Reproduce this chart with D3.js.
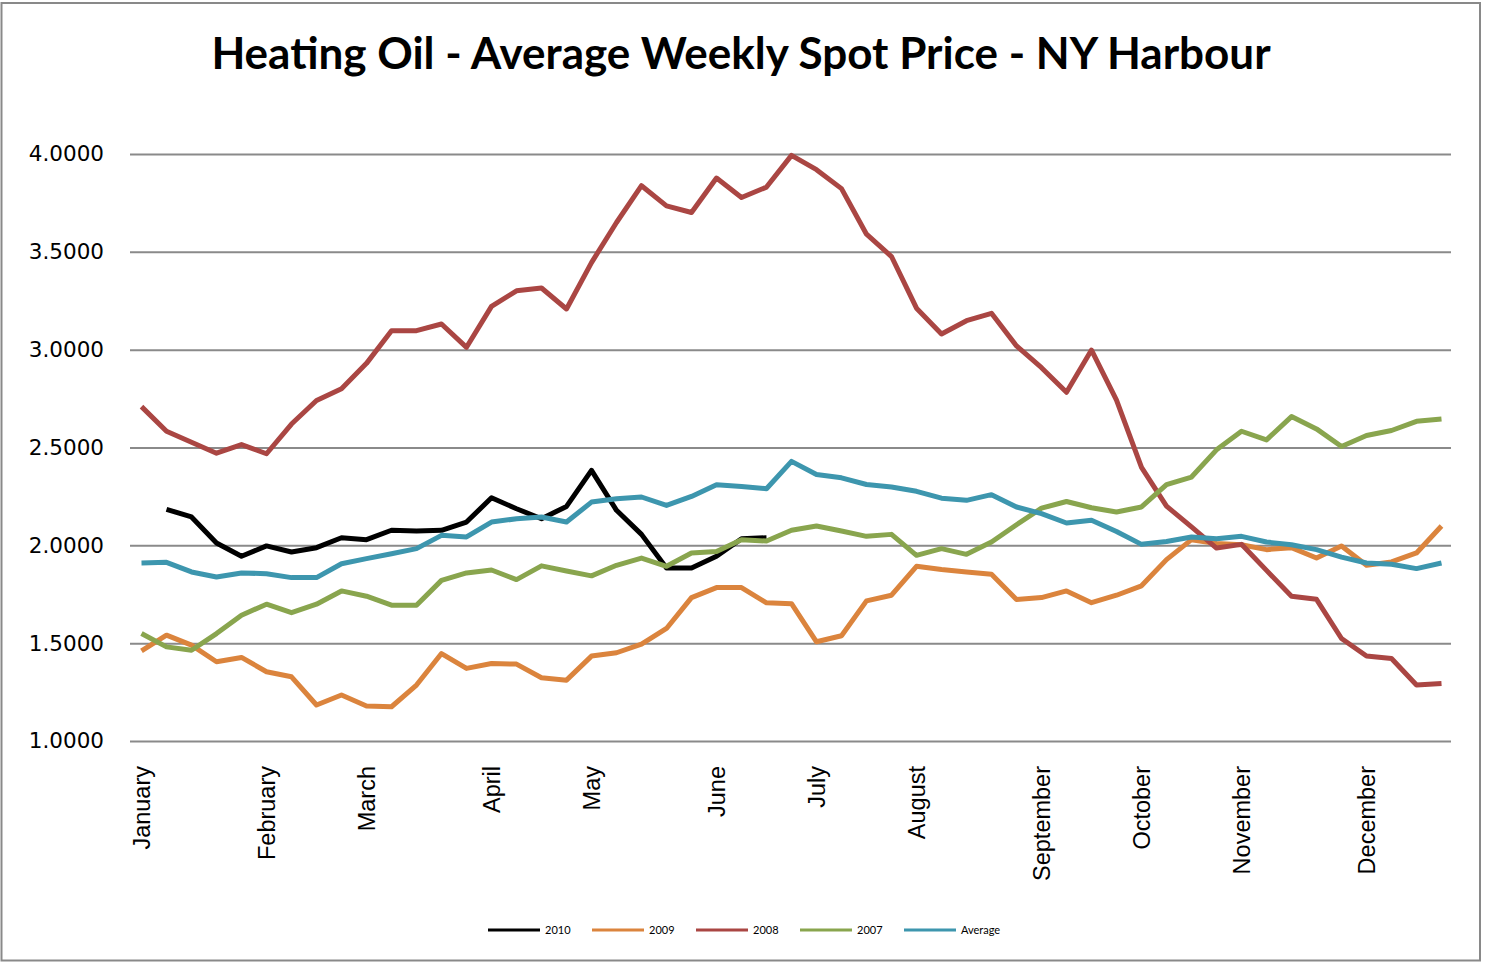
<!DOCTYPE html>
<html>
<head>
<meta charset="utf-8">
<script src="https://cdn.jsdelivr.net/npm/d3@7"></script>
<style>
  body { margin: 0; background: #fff; }
  svg { display: block; }
</style>
</head>
<body>
<div class="chart"></div>
<script>
// weekly spot price, 53 weeks (index 0..52)
const months = ["January","February","March","April","May","June","July","August","September","October","November","December"];
const monthWeek = [0, 5, 9, 14, 18, 23, 27, 31, 36, 40, 44, 49];
const yTicks = [1.0, 1.5, 2.0, 2.5, 3.0, 3.5, 4.0];

// 2010 starts at week 1 and stops at week 25
const s2010 = [null, 2.184, 2.145, 2.012, 1.944, 1.997, 1.966, 1.988, 2.039, 2.029, 2.077, 2.073, 2.077, 2.119, 2.243,
  2.187, 2.136, 2.199, 2.383, 2.179, 2.056, 1.884, 1.884, 1.944, 2.034, 2.039];
const s2009 = [1.461, 1.541, 1.490, 1.405, 1.427, 1.354, 1.328, 1.184, 1.235, 1.179, 1.175, 1.286, 1.447, 1.371, 1.396,
  1.393, 1.323, 1.311, 1.434, 1.451, 1.495, 1.575, 1.733, 1.784, 1.784, 1.706, 1.702, 1.507, 1.538,
  1.716, 1.745, 1.893, 1.876, 1.864, 1.852, 1.723, 1.733, 1.767, 1.707, 1.745, 1.793, 1.927,
  2.029, 2.009, 2.003, 1.978, 1.988, 1.935, 1.997, 1.898, 1.915, 1.961, 2.099];
const s2008 = [2.709, 2.583, 2.527, 2.471, 2.515, 2.468, 2.620, 2.740, 2.800, 2.930, 3.097, 3.097, 3.131, 3.012, 3.221,
  3.301, 3.315, 3.208, 3.445, 3.650, 3.838, 3.735, 3.701, 3.877, 3.778, 3.831, 3.993, 3.920, 3.823,
  3.590, 3.476, 3.212, 3.080, 3.148, 3.186, 3.019, 2.908, 2.782, 2.998, 2.742, 2.398, 2.200,
  2.094, 1.986, 2.005, 1.872, 1.740, 1.724, 1.524, 1.434, 1.422, 1.286, 1.294];
const s2007 = [1.549, 1.481, 1.464, 1.549, 1.643, 1.699, 1.656, 1.699, 1.767, 1.740, 1.694, 1.694, 1.821, 1.859, 1.874,
  1.825, 1.895, 1.869, 1.844, 1.898, 1.935, 1.893, 1.961, 1.969, 2.029, 2.022, 2.077, 2.099, 2.073,
  2.046, 2.056, 1.949, 1.983, 1.954, 2.017, 2.105, 2.190, 2.224, 2.192, 2.170, 2.196, 2.310,
  2.349, 2.488, 2.583, 2.539, 2.658, 2.595, 2.505, 2.561, 2.587, 2.634, 2.646];
const sAvg = [1.910, 1.913, 1.864, 1.838, 1.859, 1.855, 1.835, 1.835, 1.906, 1.932, 1.957, 1.983, 2.051, 2.043, 2.119,
  2.136, 2.145, 2.119, 2.221, 2.238, 2.247, 2.204, 2.250, 2.310, 2.301, 2.289, 2.429, 2.362, 2.345,
  2.311, 2.298, 2.276, 2.241, 2.230, 2.259, 2.196, 2.162, 2.114, 2.128, 2.071, 2.005, 2.020,
  2.043, 2.034, 2.046, 2.017, 2.003, 1.978, 1.940, 1.910, 1.903, 1.881, 1.910];

const seriesNames = ["2010", "2009", "2008", "2007", "Average"];
const seriesValues = [s2010, s2009, s2008, s2007, sAvg];
const seriesColors = ["#000000", "#DB843D", "#AA4643", "#89A54E", "#3D96AE"];

const W = 1485, H = 963;
const svg = d3.select(".chart").append("svg")
  .attr("width", W)
  .attr("height", H);

// outer border
svg.append("rect")
  .attr("x", 1.5).attr("y", 3)
  .attr("width", 1478.5).attr("height", 957.5)
  .attr("fill", "#fff")
  .attr("stroke", "#898989")
  .attr("stroke-width", 2);

svg.append("text")
  .attr("x", 741).attr("y", 69)
  .attr("text-anchor", "middle")
  .attr("font-family", "Lato, 'Open Sans', sans-serif")
  .attr("font-weight", "bold")
  .attr("font-size", 44)
  .text("Heating Oil - Average Weekly Spot Price - NY Harbour");

let plotLeft = 129, plotRight = 1454;
const weeks = d3.range(53);
const xScale = d3.scalePoint()
  .domain(weeks)
  .range([plotLeft, plotRight])
  .padding(0.5);

const yScale = d3.scaleLinear()
  .domain([1, 4])
  .range([741, 154]);

// gridlines + y labels
let yAxis = d3.axisLeft(yScale)
  .tickValues(yTicks)
  .tickSize(-(1451 - 130))
  .tickPadding(26)
  .tickFormat(d3.format(".4f"));

svg.append("g")
  .attr("class", "axis y-axis")
  .attr("transform", "translate(130,0)")
  .call(yAxis)
  .call(g => g.select(".domain").remove())
  .call(g => g.selectAll("line").attr("stroke", "#8a8a8a").attr("stroke-width", 2))
  .call(g => g.selectAll("text")
    .attr("font-family", "'DejaVu Sans', sans-serif")
    .attr("font-size", 21.5)
    .attr("fill", "#000"));

// month labels, rotated
svg.append("g")
  .selectAll("text")
  .data(monthWeek)
  .enter()
  .append("text")
  .attr("transform", (d) => "translate(" + (xScale(d) + 8) + ",766) rotate(-90)")
  .attr("text-anchor", "end")
  .attr("font-family", "'Liberation Sans', Arial, sans-serif")
  .attr("font-size", 23.5)
  .text((d, i) => months[i]);

// series lines
const line = d3.line()
  .defined(d => d != null)
  .x((d, i) => xScale(i))
  .y(d => yScale(d));

svg.append("g")
  .selectAll("path")
  .data(seriesValues)
  .enter()
  .append("path")
  .attr("d", d => line(d))
  .attr("fill", "none")
  .attr("stroke", (d, i) => seriesColors[i])
  .attr("stroke-width", 5)
  .attr("stroke-linejoin", "round");

// legend
const legend = svg.append("g").attr("class", "legend");
const legendX = [488, 592, 696, 800, 904];
legend.selectAll("line")
  .data(seriesNames)
  .enter()
  .append("line")
  .attr("x1", (d, i) => legendX[i])
  .attr("x2", (d, i) => legendX[i] + 52)
  .attr("y1", 930).attr("y2", 930)
  .attr("stroke", (d, i) => seriesColors[i])
  .attr("stroke-width", 3);

legend.selectAll("text")
  .data(seriesNames)
  .enter()
  .append("text")
  .attr("x", (d, i) => legendX[i] + 57)
  .attr("y", 934)
  .attr("font-family", "Lato, sans-serif")
  .attr("font-size", 11)
  .text(d => d);
</script>
</body>
</html>
